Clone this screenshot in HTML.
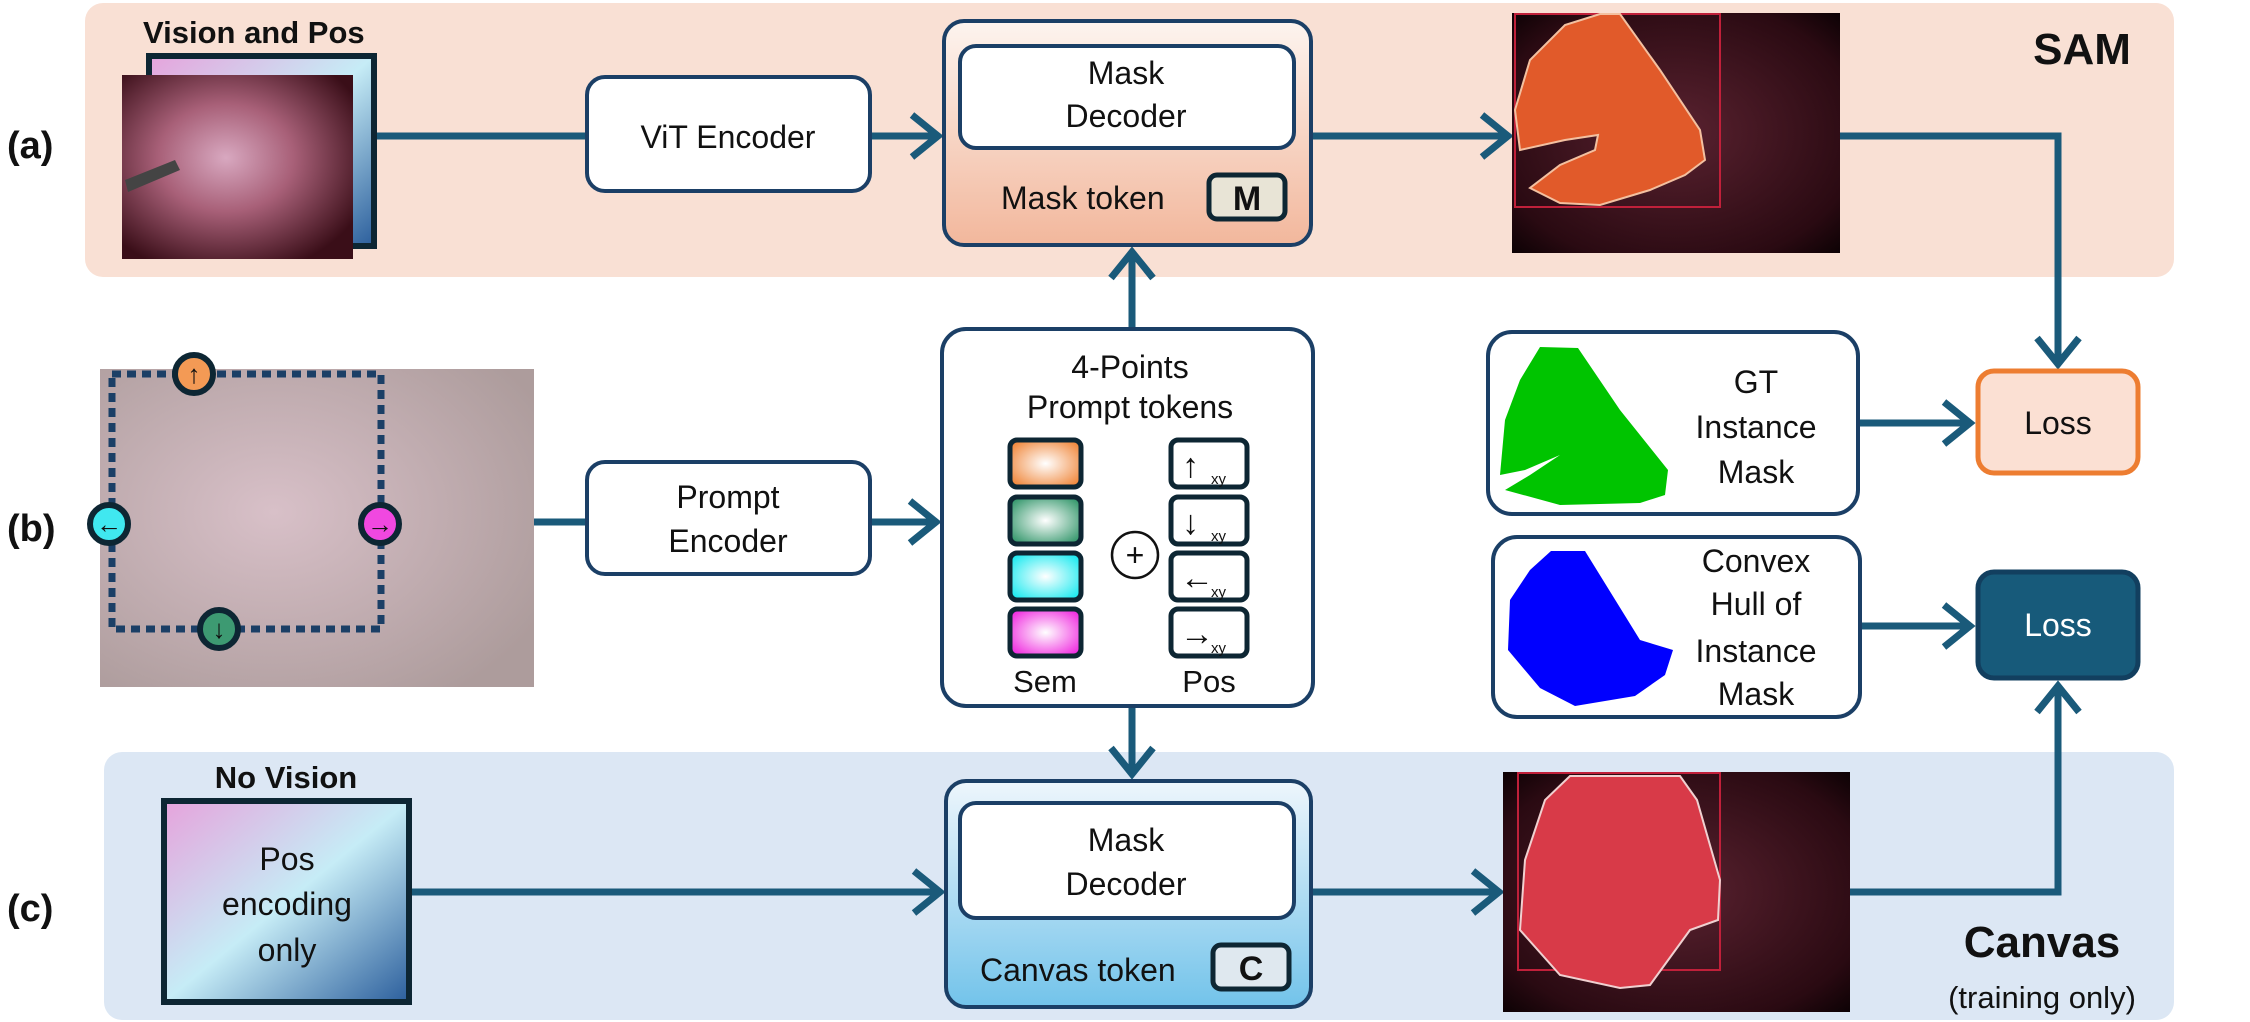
<!DOCTYPE html>
<html><head><meta charset="utf-8"><style>
html,body{margin:0;padding:0;background:#fff;}
svg{display:block;font-family:"Liberation Sans","DejaVu Sans",sans-serif;}
</style></head><body>
<svg width="2250" height="1022" viewBox="0 0 2250 1022" xmlns="http://www.w3.org/2000/svg">
<defs>
<linearGradient id="posg" x1="0" y1="0" x2="1" y2="1">
<stop offset="0" stop-color="#e6a3dc"/><stop offset="0.5" stop-color="#c6ecf6"/><stop offset="1" stop-color="#2b5e9c"/></linearGradient>
<linearGradient id="mdA" x1="0" y1="0" x2="0" y2="1"><stop offset="0" stop-color="#fdf4ef"/><stop offset="1" stop-color="#f2b79c"/></linearGradient>
<linearGradient id="mdC" x1="0" y1="0" x2="0" y2="1"><stop offset="0" stop-color="#eef6fc"/><stop offset="1" stop-color="#72c3ea"/></linearGradient>
<radialGradient id="tis" cx="0.45" cy="0.45" r="0.65"><stop offset="0" stop-color="#d8a8c0"/><stop offset="0.45" stop-color="#a86078"/><stop offset="1" stop-color="#3a0e18"/></radialGradient>
<radialGradient id="dark" cx="0.5" cy="0.5" r="0.7"><stop offset="0" stop-color="#5a2230"/><stop offset="0.8" stop-color="#2a0a12"/><stop offset="1" stop-color="#0e0205"/></radialGradient>
<radialGradient id="faded" cx="0.4" cy="0.45" r="0.7"><stop offset="0" stop-color="#d8c0c8"/><stop offset="1" stop-color="#ad9c9c"/></radialGradient>
<radialGradient id="sq1" cx="0.5" cy="0.5" r="0.6"><stop offset="0" stop-color="#fff"/><stop offset="1" stop-color="#f08a40"/></radialGradient>
<radialGradient id="sq2" cx="0.5" cy="0.5" r="0.6"><stop offset="0" stop-color="#fff"/><stop offset="1" stop-color="#3a9a70"/></radialGradient>
<radialGradient id="sq3" cx="0.5" cy="0.5" r="0.6"><stop offset="0" stop-color="#fff"/><stop offset="1" stop-color="#20eaf0"/></radialGradient>
<radialGradient id="sq4" cx="0.5" cy="0.5" r="0.6"><stop offset="0" stop-color="#fff"/><stop offset="1" stop-color="#f030e0"/></radialGradient>
</defs>

<rect x="85" y="3" width="2089" height="274" rx="18" fill="#f9e0d4"/>
<rect x="104" y="752" width="2070" height="268" rx="18" fill="#dce7f4"/>

<g font-weight="bold" font-size="38" fill="#111">
<text x="7" y="158">(a)</text><text x="7" y="541">(b)</text><text x="7" y="921">(c)</text>
</g>

<text x="143" y="43" font-size="31" font-weight="bold" fill="#111">Vision and Pos</text>
<rect x="149" y="56" width="225" height="190" fill="url(#posg)" stroke="#0d2633" stroke-width="6"/>
<rect x="122" y="75" width="231" height="184" fill="url(#tis)"/>
<path d="M125 180 L175 160 L180 170 L128 192Z" fill="#444"/>

<g stroke="#1a5a7a" stroke-width="7" fill="none" stroke-linecap="butt" stroke-linejoin="miter">
<line x1="377" y1="136" x2="585" y2="136"/>
<line x1="872" y1="136" x2="938" y2="136"/><polyline points="912,115 938,136 912,157"/>
<line x1="1313" y1="136" x2="1508" y2="136"/><polyline points="1482,115 1508,136 1482,157"/>
<polyline points="1840,136 2058,136 2058,364"/><polyline points="2037,338 2058,364 2079,338"/>
<line x1="1132" y1="327" x2="1132" y2="252"/><polyline points="1111,278 1132,252 1153,278"/>
<line x1="534" y1="522" x2="585" y2="522"/>
<line x1="872" y1="522" x2="936" y2="522"/><polyline points="910,501 936,522 910,543"/>
<line x1="1132" y1="708" x2="1132" y2="774"/><polyline points="1111,748 1132,774 1153,748"/>
<line x1="412" y1="892" x2="940" y2="892"/><polyline points="914,871 940,892 914,913"/>
<line x1="1313" y1="892" x2="1499" y2="892"/><polyline points="1473,871 1499,892 1473,913"/>
<polyline points="1850,892 2058,892 2058,686"/><polyline points="2037,712 2058,686 2079,712"/>
<line x1="1860" y1="423" x2="1970" y2="423"/><polyline points="1944,402 1970,423 1944,444"/>
<line x1="1862" y1="626" x2="1970" y2="626"/><polyline points="1944,605 1970,626 1944,647"/>
</g>

<rect x="587" y="77" width="283" height="114" rx="18" fill="#fff" stroke="#1b3f66" stroke-width="4"/>
<text x="728" y="148" font-size="32" text-anchor="middle" fill="#111">ViT Encoder</text>
<rect x="587" y="462" width="283" height="112" rx="18" fill="#fff" stroke="#1b3f66" stroke-width="4"/>
<text x="728" y="508" font-size="32" text-anchor="middle" fill="#111">Prompt</text>
<text x="728" y="552" font-size="32" text-anchor="middle" fill="#111">Encoder</text>

<rect x="944" y="21" width="367" height="224" rx="20" fill="url(#mdA)" stroke="#1b3f66" stroke-width="4"/>
<rect x="960" y="46" width="334" height="102" rx="16" fill="#fff" stroke="#1b3f66" stroke-width="4"/>
<text x="1126" y="84" font-size="32" text-anchor="middle" fill="#111">Mask</text>
<text x="1126" y="127" font-size="32" text-anchor="middle" fill="#111">Decoder</text>
<text x="1001" y="209" font-size="32" fill="#111">Mask token</text>
<rect x="1209" y="175" width="76" height="44" rx="8" fill="#e8e4d6" stroke="#0d2633" stroke-width="5"/>
<text x="1247" y="210" font-size="34" font-weight="bold" text-anchor="middle" fill="#111">M</text>

<rect x="946" y="781" width="365" height="226" rx="20" fill="url(#mdC)" stroke="#1b3f66" stroke-width="4"/>
<rect x="960" y="803" width="334" height="115" rx="16" fill="#fff" stroke="#1b3f66" stroke-width="4"/>
<text x="1126" y="851" font-size="32" text-anchor="middle" fill="#111">Mask</text>
<text x="1126" y="895" font-size="32" text-anchor="middle" fill="#111">Decoder</text>
<text x="980" y="981" font-size="32" fill="#111">Canvas token</text>
<rect x="1213" y="945" width="76" height="44" rx="8" fill="#dfe8ef" stroke="#0d2633" stroke-width="5"/>
<text x="1251" y="980" font-size="34" font-weight="bold" text-anchor="middle" fill="#111">C</text>

<rect x="1512" y="13" width="328" height="240" fill="url(#dark)"/>
<rect x="1515" y="14" width="205" height="193" fill="none" stroke="#c0203a" stroke-width="2"/>
<path d="M1600 14 L1620 14 L1660 70 L1700 130 L1705 160 L1685 175 L1650 190 L1600 205 L1560 203 L1530 188 L1560 165 L1595 150 L1598 135 L1565 140 L1520 150 L1515 110 L1530 60 L1565 25Z" fill="#e15a2a" stroke="#f3c0a0" stroke-width="2"/>
<rect x="1503" y="772" width="347" height="240" fill="url(#dark)"/>
<rect x="1518" y="773" width="202" height="197" fill="none" stroke="#c0203a" stroke-width="2"/>
<path d="M1570 776 L1680 776 L1697 800 L1720 880 L1718 920 L1690 930 L1650 985 L1620 988 L1560 975 L1520 930 L1525 860 L1545 800Z" fill="#d83a48" stroke="#f0d0d0" stroke-width="2"/>

<text x="2082" y="64" font-size="44" font-weight="bold" text-anchor="middle" fill="#111">SAM</text>
<text x="2042" y="957" font-size="44" font-weight="bold" text-anchor="middle" fill="#111">Canvas</text>
<text x="2042" y="1008" font-size="31" text-anchor="middle" fill="#111">(training only)</text>

<rect x="100" y="369" width="434" height="318" fill="url(#faded)"/>
<rect x="112" y="374" width="269" height="255" fill="none" stroke="#1b3f66" stroke-width="7" stroke-dasharray="9,6"/>
<g stroke="#0d2633" stroke-width="6">
<circle cx="194" cy="374" r="19" fill="#f39a55"/>
<circle cx="109" cy="524" r="19" fill="#40e8f0"/>
<circle cx="380" cy="524" r="19" fill="#f048e0"/>
<circle cx="219" cy="629" r="19" fill="#3d9a72"/>
</g>
<g font-size="26" font-weight="bold" text-anchor="middle" fill="#111">
<text x="194" y="383">↑</text><text x="109" y="533">←</text><text x="380" y="533">→</text><text x="219" y="638">↓</text>
</g>

<rect x="942" y="329" width="371" height="377" rx="24" fill="#fff" stroke="#1b3f66" stroke-width="4"/>
<text x="1130" y="378" font-size="32" text-anchor="middle" fill="#111">4-Points</text>
<text x="1130" y="418" font-size="32" text-anchor="middle" fill="#111">Prompt tokens</text>
<g stroke="#0d2633" stroke-width="5">
<rect x="1010" y="440" width="71" height="47" rx="7" fill="url(#sq1)"/>
<rect x="1010" y="497" width="71" height="47" rx="7" fill="url(#sq2)"/>
<rect x="1010" y="553" width="71" height="47" rx="7" fill="url(#sq3)"/>
<rect x="1010" y="609" width="71" height="47" rx="7" fill="url(#sq4)"/>
<rect x="1171" y="440" width="76" height="47" rx="7" fill="#fff"/>
<rect x="1171" y="497" width="76" height="47" rx="7" fill="#fff"/>
<rect x="1171" y="553" width="76" height="47" rx="7" fill="#fff"/>
<rect x="1171" y="609" width="76" height="47" rx="7" fill="#fff"/>
</g>
<circle cx="1135" cy="555" r="23" fill="#fff" stroke="#111" stroke-width="2.5"/>
<text x="1135" y="566" font-size="32" text-anchor="middle" fill="#111">+</text>
<g fill="#111">
<text x="1182" y="477" font-size="34">↑</text><text x="1211" y="484" font-size="15">xy</text>
<text x="1182" y="534" font-size="34">↓</text><text x="1211" y="541" font-size="15">xy</text>
<text x="1180" y="589" font-size="34">←</text><text x="1211" y="597" font-size="15">xy</text>
<text x="1180" y="645" font-size="34">→</text><text x="1211" y="653" font-size="15">xy</text>
</g>
<text x="1045" y="692" font-size="31" text-anchor="middle" fill="#111">Sem</text>
<text x="1209" y="692" font-size="31" text-anchor="middle" fill="#111">Pos</text>

<rect x="1488" y="332" width="370" height="182" rx="24" fill="#fff" stroke="#1b3f66" stroke-width="4"/>
<path d="M1540 347 L1578 348 L1620 410 L1668 470 L1665 495 L1640 503 L1560 505 L1505 490 L1530 475 L1560 455 L1525 470 L1500 475 L1505 420 L1520 380Z" fill="#00c400"/>
<text x="1756" y="393" font-size="32" text-anchor="middle" fill="#111">GT</text>
<text x="1756" y="438" font-size="32" text-anchor="middle" fill="#111">Instance</text>
<text x="1756" y="483" font-size="32" text-anchor="middle" fill="#111">Mask</text>

<rect x="1493" y="537" width="367" height="180" rx="24" fill="#fff" stroke="#1b3f66" stroke-width="4"/>
<path d="M1551 551 L1585 551 L1640 640 L1673 650 L1665 675 L1635 696 L1575 706 L1540 688 L1508 650 L1510 600 L1530 570Z" fill="#0000ff"/>
<text x="1756" y="572" font-size="32" text-anchor="middle" fill="#111">Convex</text>
<text x="1756" y="615" font-size="32" text-anchor="middle" fill="#111">Hull of</text>
<text x="1756" y="662" font-size="32" text-anchor="middle" fill="#111">Instance</text>
<text x="1756" y="705" font-size="32" text-anchor="middle" fill="#111">Mask</text>

<rect x="1978" y="371" width="160" height="102" rx="16" fill="#fbe0d3" stroke="#ed7d31" stroke-width="5"/>
<text x="2058" y="434" font-size="32" text-anchor="middle" fill="#111">Loss</text>
<rect x="1978" y="572" width="160" height="106" rx="16" fill="#175a7a" stroke="#123f5f" stroke-width="5"/>
<text x="2058" y="636" font-size="32" text-anchor="middle" fill="#fff">Loss</text>

<text x="286" y="788" font-size="31" font-weight="bold" text-anchor="middle" fill="#111">No Vision</text>
<rect x="164" y="801" width="245" height="201" fill="url(#posg)" stroke="#0d2633" stroke-width="6"/>
<text x="287" y="870" font-size="32" text-anchor="middle" fill="#111">Pos</text>
<text x="287" y="915" font-size="32" text-anchor="middle" fill="#111">encoding</text>
<text x="287" y="961" font-size="32" text-anchor="middle" fill="#111">only</text>
</svg>
</body></html>
